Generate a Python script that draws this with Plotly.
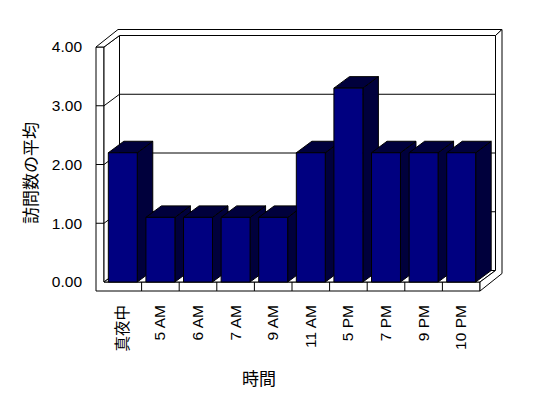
import plotly.graph_objects as go

# ---- data ----
categories = ["真夜中", "5 AM", "6 AM", "7 AM", "9 AM", "11 AM", "5 PM", "7 PM", "9 PM", "10 PM"]
values = [2.2, 1.1, 1.1, 1.1, 1.1, 2.2, 3.3, 2.2, 2.2, 2.2]
y_ticks = [0, 1, 2, 3, 4]
y_tick_labels = ["%.2f" % v for v in y_ticks]
x_title = "時間"
y_title = "訪問数の平均"

# ---- layout geometry (pixels) ----
W, H = 548, 398
L, R, T, B = 94, 42, 26, 102
CAT_PX = 37.6      # pixels per category
UNIT_PX = 58.75    # pixels per value unit
X0_PX = 122.8      # pixel of first category centre
Y0_PX = 282.0      # pixel of value 0 on the front plane

x_range = [(L - X0_PX) / CAT_PX, (W - R - X0_PX) / CAT_PX]
y_range = [(Y0_PX - (H - B)) / UNIT_PX, (Y0_PX - T) / UNIT_PX]

n = len(categories)
ymax = max(y_ticks)
xl, xr = -0.5, n - 0.5
DX, DY = 15.5 / CAT_PX, 11.5 / UNIT_PX     # depth of the box
TX, TY = 6.5 / CAT_PX, 6.0 / UNIT_PX       # thickness of back wall
WALL = 8.0 / CAT_PX                        # thickness of left wall
FLOOR = 9.0 / UNIT_PX                      # thickness of floor
BAR_W = 0.77
SIDE_COLOR = "#00003c"
FRONT_COLOR = "#000080"

shapes = []


def poly(pts, fill):
    path = "M " + " L ".join("%.5f,%.5f" % p for p in pts) + " Z"
    shapes.append(dict(type="path", xref="x", yref="y", path=path,
                       fillcolor=fill, line=dict(color="black", width=1), layer="below"))


def seg(x0, y0, x1, y1):
    shapes.append(dict(type="line", xref="x", yref="y", x0=x0, y0=y0, x1=x1, y1=y1,
                       line=dict(color="black", width=1), layer="below"))


# frame: front L of left wall + floor
poly([(xl - WALL, ymax), (xl, ymax), (xl, 0), (xr, 0), (xr, -FLOOR), (xl - WALL, -FLOOR)], "white")
# left wall inner face
poly([(xl, ymax), (xl + DX, ymax + DY), (xl + DX, DY), (xl, 0)], "white")
# back wall
poly([(xl + DX, DY), (xr + DX, DY), (xr + DX, ymax + DY), (xl + DX, ymax + DY)], "white")
# floor top
poly([(xl, 0), (xl + DX, DY), (xr + DX, DY), (xr, 0)], "white")
# top edges of walls
poly([(xl - WALL, ymax), (xl, ymax), (xl + DX, ymax + DY), (xr + DX, ymax + DY),
      (xr + DX + TX, ymax + DY + TY), (xl - WALL + DX + TX, ymax + DY + TY)], "white")
# right side faces
poly([(xr + DX, ymax + DY), (xr + DX + TX, ymax + DY + TY), (xr + DX + TX, -FLOOR + DY + TY),
      (xr, -FLOOR), (xr, 0), (xr + DX, DY)], "white")

# gridlines on back wall + left wall
for v in y_ticks:
    if 0 < v < ymax:
        seg(xl + DX, v + DY, xr + DX, v + DY)
        seg(xl, v, xl + DX, v + DY)
        seg(xl - WALL, v, xl, v)

# floor dividers
for i in range(n - 1):
    seg(i + 0.5, 0, i + 0.5, -FLOOR)

# bar side and top faces
for i, v in enumerate(values):
    a, b = i - BAR_W / 2, i + BAR_W / 2
    poly([(b, 0), (b, v), (b + DX, v + DY), (b + DX, DY)], SIDE_COLOR)
    poly([(a, v), (b, v), (b + DX, v + DY), (a + DX, v + DY)], SIDE_COLOR)

fig = go.Figure()
fig.add_trace(go.Bar(
    x=list(range(n)), y=values, width=BAR_W,
    marker=dict(color=FRONT_COLOR, line=dict(color="black", width=1)),
    hoverinfo="skip",
))

FONT = "Liberation Sans, Noto Sans CJK JP, sans-serif"
CJK = "Noto Sans CJK JP, sans-serif"


def px_to_paper(px, py):
    return (px - L) / (W - L - R), ((H - B) - py) / (H - T - B)


ax, ay = px_to_paper(29, 173)
bx, by = px_to_paper(259, 377)

fig.update_layout(
    width=W, height=H,
    margin=dict(l=L, r=R, t=T, b=B, pad=0),
    paper_bgcolor="white", plot_bgcolor="white",
    showlegend=False,
    font=dict(family=FONT, color="black", size=15),
    shapes=shapes,
    xaxis=dict(range=x_range, tickvals=list(range(n)), ticktext=categories,
               tickangle=-90, showgrid=False, zeroline=False, showline=False,
               ticks="", ticklabelstandoff=5, tickfont=dict(size=15.5, family=FONT)),
    yaxis=dict(range=y_range, tickvals=y_ticks, ticktext=y_tick_labels,
               showgrid=False, zeroline=False, showline=False,
               ticks="", ticklabelstandoff=11, tickfont=dict(size=15.5, family=FONT)),
    annotations=[
        dict(text=y_title, xref="paper", yref="paper", x=ax, y=ay, showarrow=False,
             textangle=-90, font=dict(size=17, family=CJK), xanchor="center", yanchor="middle"),
        dict(text=x_title, xref="paper", yref="paper", x=bx, y=by, showarrow=False,
             font=dict(size=17, family=CJK), xanchor="center", yanchor="middle"),
    ],
)

fig.write_html("out.html")
